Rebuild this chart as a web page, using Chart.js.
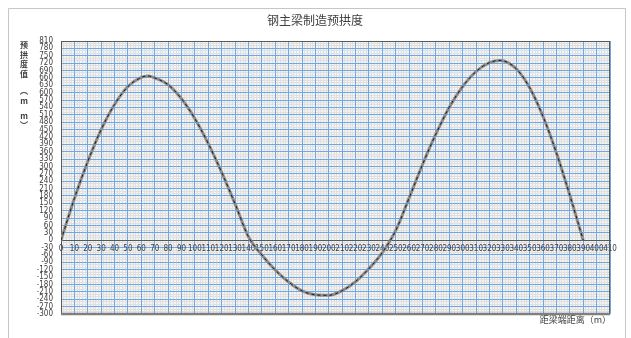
<!DOCTYPE html>
<html>
<head>
<meta charset="utf-8">
<title>钢主梁制造预拱度</title>
<script src="https://cdn.jsdelivr.net/npm/chart.js@4.4.1/dist/chart.umd.min.js"></script>
<style>
    html, body { margin: 0; padding: 0; background: #fff; }
    #wrap { width: 631px; height: 338px; position: relative; }
</style>
</head>
<body>
<div id="wrap"><canvas id="chartCamber" width="631" height="338"></canvas></div>
<script>
// ========== DONNÉES ==========
const distances = [0, 10, 20, 30, 40, 50, 60, 65, 70, 80, 90, 100, 110, 120, 130, 140, 150, 160, 170, 180, 190,
    200, 210, 220, 230, 240, 250, 260, 270, 280, 290, 300, 310, 320, 328, 340, 350, 360, 370, 380, 390];
const camber = [0, 170, 320, 450, 552, 625, 662, 668, 660, 632, 575, 494, 393, 276, 148, 14, -60, -121, -170, -206, -222,
    -224, -205, -168, -115, -50, 40, 172, 308, 432, 541, 625, 686, 722, 731, 697, 620, 503, 355, 183, 0];

const xTickRange = { min: 0, max: 410, step: 10, minor: 2 };
const yTickRange = { min: -300, max: 810, step: 30, minor: 10 };

const chartTitle = '钢主梁制造预拱度';
const yTitleChars = ['预', '拱', '度', '值', '︵', 'm', 'm', '︶'];
const xTitle = '距梁端距离（m）';

(function() {
    'use strict';

    const points = distances.map((d, i) => ({ x: d, y: camber[i] }));
    const tickFont = { family: '"Liberation Sans Narrow", "DejaVu Sans Condensed", "Liberation Sans", sans-serif', size: 8 };
    const cjk = '"Noto Sans CJK SC", "Noto Sans", sans-serif';

    // ---------- textes et cadres ----------
    const decor = {
        id: 'decor',
        beforeDraw(chart) {
            const { ctx, chartArea: a } = chart;
            ctx.save();
            ctx.strokeStyle = '#c6c6c6';
            ctx.lineWidth = 1;
            ctx.beginPath();
            ctx.moveTo(8.5, 338); ctx.lineTo(8.5, 8.5); ctx.lineTo(625.5, 8.5); ctx.lineTo(625.5, 338);
            ctx.stroke();
            ctx.fillStyle = '#f4f4f4';
            ctx.fillRect(a.left, a.top, a.right - a.left, a.bottom - a.top);
            ctx.restore();
        },
        beforeDatasetsDraw(chart) {
            const { ctx, chartArea: a } = chart;
            ctx.save();
            ctx.strokeStyle = '#595959';
            ctx.lineWidth = 1;
            ctx.beginPath();
            ctx.moveTo(a.left, a.top + 0.5); ctx.lineTo(a.right, a.top + 0.5);
            ctx.moveTo(a.right - 0.5, a.top); ctx.lineTo(a.right - 0.5, a.bottom);
            ctx.stroke();
            ctx.strokeStyle = '#7f7f7f';
            ctx.lineWidth = 2.5;
            ctx.beginPath();
            ctx.moveTo(a.left, a.bottom); ctx.lineTo(a.right, a.bottom);
            ctx.stroke();
            ctx.restore();
        },
        afterDraw(chart) {
            const { ctx, chartArea: a } = chart;
            ctx.save();
            ctx.fillStyle = '#404040';
            ctx.textAlign = 'center';
            ctx.textBaseline = 'middle';
            ctx.font = '12px ' + cjk;
            ctx.fillText(chartTitle, 315, 20);

            ctx.font = 'bold 8px ' + cjk;
            const ys = [45, 54.5, 64, 73.5, 91, 101, 116, 125];
            yTitleChars.forEach((c, i) => ctx.fillText(c, 24, ys[i]));

            ctx.font = '9px ' + cjk;
            ctx.textAlign = 'right';
            ctx.fillText(xTitle, a.right + 1, a.bottom + 6);
            ctx.restore();
        }
    };

    const ctx = document.getElementById('chartCamber');
    new Chart(ctx, {
        type: 'line',
        data: {
            datasets: [{
                label: '预拱度（虚线）',
                data: points,
                borderColor: '#1a1a1a',
                borderWidth: 1,
                borderDash: [3, 3],
                pointRadius: 0,
                cubicInterpolationMode: 'monotone'
            }, {
                label: '预拱度',
                data: points,
                borderColor: '#8c8c8c',
                borderWidth: 3,
                pointRadius: 0,
                cubicInterpolationMode: 'monotone'
            }]
        },
        options: {
            responsive: false,
            animation: false,
            layout: { padding: { left: 0, top: 41, right: 21, bottom: 24 } },
            plugins: { legend: { display: false }, tooltip: { enabled: false } },
            scales: {
                xMinor: {
                    type: 'linear', position: 'bottom',
                    min: xTickRange.min, max: xTickRange.max,
                    ticks: { display: false, stepSize: xTickRange.minor },
                    grid: { color: '#e0e0e0', drawTicks: false },
                    border: { display: false }
                },
                yMinor: {
                    type: 'linear', position: 'left',
                    min: yTickRange.min, max: yTickRange.max,
                    ticks: { display: false, stepSize: yTickRange.minor },
                    grid: { color: '#e0e0e0', drawTicks: false },
                    border: { display: false },
                    afterFit: (s) => { s.width = 0; }
                },
                y: {
                    type: 'linear', position: 'left',
                    min: yTickRange.min, max: yTickRange.max,
                    ticks: { stepSize: yTickRange.step, autoSkip: false, font: tickFont, color: '#404040', padding: 8 },
                    grid: { color: '#6fa6e4', drawTicks: false },
                    border: { color: '#595959' },
                    afterFit: (s) => { s.width = 61; s.paddingTop = 0; s.paddingBottom = 0; }
                },
                x: {
                    type: 'linear', position: { y: 0 },
                    min: xTickRange.min, max: xTickRange.max,
                    ticks: { stepSize: xTickRange.step, autoSkip: false, maxRotation: 0, font: tickFont, color: '#404040', padding: 4 },
                    grid: { color: '#6fa6e4', drawTicks: false },
                    border: { color: '#595959' },
                    afterFit: (s) => { s.paddingLeft = 0; s.paddingRight = 0; }
                }
            }
        },
        plugins: [decor]
    });
})();
</script>
</body>
</html>
